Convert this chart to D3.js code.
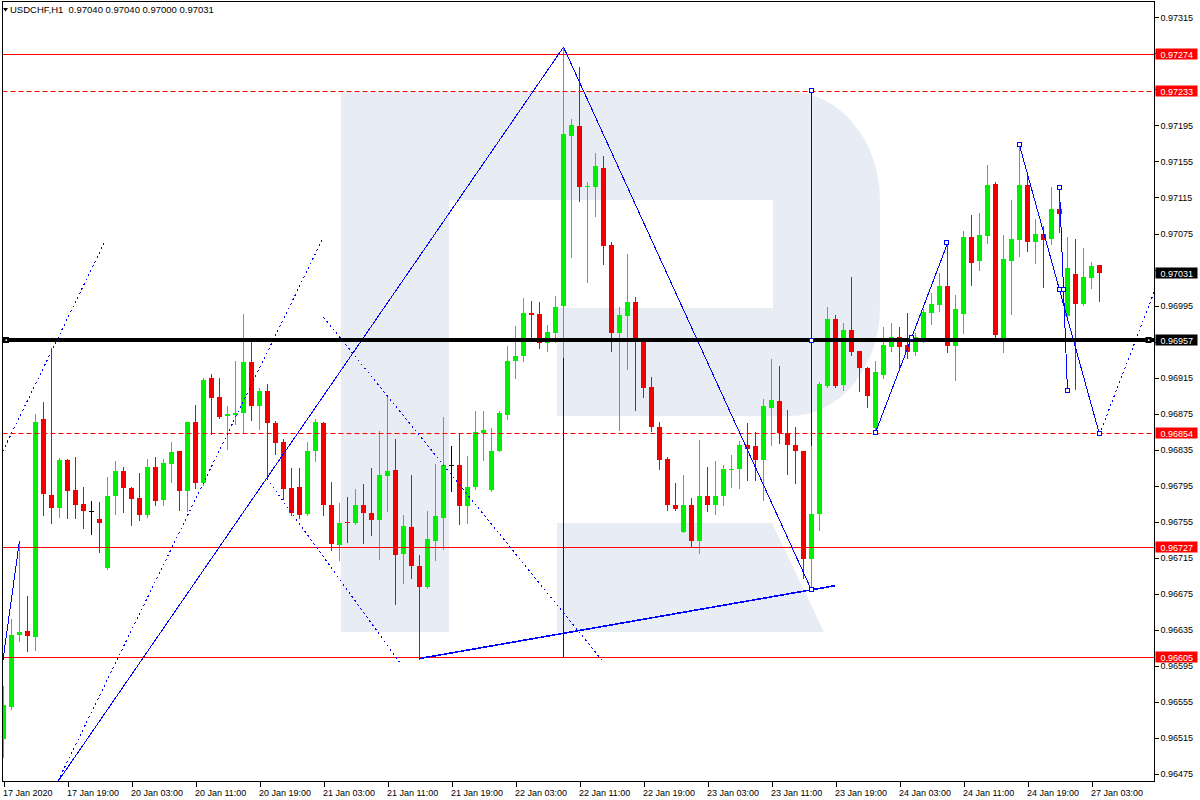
<!DOCTYPE html>
<html><head><meta charset="utf-8">
<script src="https://cdn.jsdelivr.net/npm/d3@7"></script>
<style>
html,body{margin:0;padding:0;background:#fff;}
svg{display:block;}
text{font-family:"Liberation Sans",Arial,sans-serif;}
</style>
</head><body>
<svg id="c" width="1200" height="800"></svg>
<script>
// ---------------- DATA ----------------
const chartTitle = "USDCHF,H1  0.97040 0.97040 0.97000 0.97031";
// one label every 8 hourly bars, starting at bar 0 (17 Jan 11:00)
const timeLabels = ["17 Jan 2020","17 Jan 19:00","20 Jan 03:00","20 Jan 11:00","20 Jan 19:00",
  "21 Jan 03:00","21 Jan 11:00","21 Jan 19:00","22 Jan 03:00","22 Jan 11:00","22 Jan 19:00",
  "23 Jan 03:00","23 Jan 11:00","23 Jan 19:00","24 Jan 03:00","24 Jan 11:00","24 Jan 19:00","27 Jan 03:00"];
const priceTicks = [0.96475,0.96515,0.96555,0.96595,0.96635,0.96675,0.96715,0.96755,0.96795,0.96835,
  0.96875,0.96915,0.96955,0.96995,0.97035,0.97075,0.97115,0.97155,0.97195,0.97235,0.97275,0.97315];

const open = [0.96514,0.96549,0.96629,0.96634,0.96627,0.96869,0.96785,0.96770,0.96823,0.96790,
 0.96775,0.96767,0.96758,0.96703,0.96783,0.96811,0.96792,0.96781,0.96762,0.96816,
 0.96779,0.96819,0.96834,0.96789,0.96866,0.96798,0.96914,0.96893,0.96872,0.96874,
 0.96876,0.96932,0.96883,0.96900,0.96865,0.96844,0.96792,0.96794,0.96763,0.96834,
 0.96865,0.96774,0.96729,0.96755,0.96753,0.96774,0.96765,0.96757,0.96806,0.96812,
 0.96719,0.96749,0.96706,0.96682,0.96733,0.96759,0.96818,0.96818,0.96772,0.96793,
 0.96854,0.96790,0.96834,0.96874,0.96933,0.96939,0.96987,0.96986,0.96953,0.96965,
 0.96994,0.97183,0.97194,0.97127,0.97127,0.97148,0.97062,0.96965,0.96983,0.96999,
 0.96955,0.96905,0.96860,0.96825,0.96774,0.96743,0.96774,0.96733,0.96783,0.96773,
 0.96784,0.96812,0.96814,0.96840,0.96839,0.96823,0.96881,0.96889,0.96854,0.96840,
 0.96834,0.96713,0.96763,0.96906,0.96980,0.96907,0.96968,0.96945,0.96926,0.96859,
 0.96918,0.96949,0.96960,0.96951,0.96943,0.96956,0.96987,0.96996,0.97017,0.96950,
 0.96986,0.97071,0.97044,0.97072,0.97130,0.96959,0.97045,0.97068,0.97129,0.97066,
 0.97074,0.97069,0.97102,0.96983,0.97030,0.96997,0.97026,0.97040];
const high = [0.96573,0.96647,0.96734,0.96673,0.96875,0.96888,0.96948,0.96826,0.96825,0.96827,
 0.96793,0.96778,0.96777,0.96805,0.96822,0.96816,0.96794,0.96809,0.96825,0.96827,
 0.96825,0.96844,0.96834,0.96866,0.96885,0.96915,0.96919,0.96914,0.96883,0.96933,
 0.96986,0.96955,0.96903,0.96908,0.96867,0.96847,0.96815,0.96815,0.96844,0.96869,
 0.96866,0.96799,0.96776,0.96782,0.96791,0.96797,0.96815,0.96856,0.96895,0.96847,
 0.96762,0.96807,0.96718,0.96767,0.96819,0.96871,0.96839,0.96854,0.96828,0.96878,
 0.96878,0.96859,0.96878,0.96950,0.96972,0.97003,0.97000,0.96999,0.96973,0.97006,
 0.97282,0.97202,0.97260,0.97132,0.97164,0.97161,0.97066,0.96993,0.97052,0.97004,
 0.96958,0.96916,0.96866,0.96827,0.96798,0.96807,0.96781,0.96846,0.96816,0.96822,
 0.96818,0.96829,0.96845,0.96865,0.96855,0.96891,0.96936,0.96928,0.96879,0.96860,
 0.96834,0.96839,0.96910,0.96993,0.96984,0.96976,0.97027,0.96945,0.96927,0.96933,
 0.96971,0.96976,0.96971,0.96987,0.96965,0.96991,0.97009,0.97031,0.97065,0.97007,
 0.97078,0.97096,0.97098,0.97151,0.97132,0.97073,0.97112,0.97173,0.97142,0.97091,
 0.97083,0.97127,0.97123,0.97071,0.97069,0.97059,0.97043,0.97040];
const low = [0.96494,0.96547,0.96623,0.96611,0.96613,0.96762,0.96754,0.96760,0.96759,0.96759,
 0.96748,0.96741,0.96721,0.96702,0.96763,0.96766,0.96751,0.96757,0.96760,0.96774,
 0.96773,0.96799,0.96768,0.96767,0.96792,0.96796,0.96852,0.96870,0.96836,0.96864,
 0.96853,0.96868,0.96858,0.96803,0.96830,0.96780,0.96762,0.96759,0.96762,0.96822,
 0.96762,0.96723,0.96712,0.96732,0.96752,0.96731,0.96740,0.96714,0.96767,0.96664,
 0.96687,0.96692,0.96603,0.96681,0.96712,0.96725,0.96789,0.96752,0.96754,0.96791,
 0.96824,0.96789,0.96833,0.96869,0.96915,0.96933,0.96958,0.96948,0.96945,0.96955,
 0.96938,0.97049,0.97111,0.97021,0.97095,0.97041,0.96945,0.96857,0.96925,0.96879,
 0.96893,0.96856,0.96814,0.96768,0.96768,0.96743,0.96728,0.96720,0.96767,0.96763,
 0.96774,0.96793,0.96792,0.96801,0.96801,0.96779,0.96840,0.96842,0.96808,0.96798,
 0.96692,0.96679,0.96746,0.96904,0.96905,0.96901,0.96940,0.96900,0.96882,0.96855,
 0.96914,0.96945,0.96927,0.96937,0.96940,0.96955,0.96975,0.96989,0.96943,0.96912,
 0.96965,0.97018,0.97035,0.97065,0.96958,0.96943,0.96986,0.97050,0.97056,0.97042,
 0.97016,0.97063,0.97077,0.96979,0.96902,0.96996,0.97014,0.97000];
const close = [0.96551,0.96629,0.96633,0.96628,0.96866,0.96786,0.96770,0.96824,0.96789,0.96774,
 0.96767,0.96767,0.96753,0.96783,0.96811,0.96792,0.96780,0.96762,0.96816,0.96778,
 0.96820,0.96832,0.96789,0.96866,0.96798,0.96912,0.96892,0.96871,0.96875,0.96876,
 0.96932,0.96883,0.96900,0.96865,0.96842,0.96791,0.96765,0.96762,0.96833,0.96866,
 0.96773,0.96730,0.96754,0.96753,0.96773,0.96765,0.96757,0.96807,0.96811,0.96718,
 0.96750,0.96706,0.96682,0.96736,0.96761,0.96818,0.96818,0.96772,0.96794,0.96855,
 0.96857,0.96834,0.96876,0.96933,0.96939,0.96987,0.96985,0.96953,0.96966,0.96993,
 0.97186,0.97195,0.97127,0.97128,0.97150,0.97061,0.96965,0.96984,0.96999,0.96955,
 0.96903,0.96860,0.96823,0.96773,0.96769,0.96774,0.96733,0.96783,0.96774,0.96784,
 0.96814,0.96814,0.96840,0.96836,0.96823,0.96883,0.96890,0.96853,0.96840,0.96833,
 0.96714,0.96764,0.96908,0.96980,0.96906,0.96968,0.96943,0.96926,0.96895,0.96921,
 0.96951,0.96960,0.96949,0.96943,0.96960,0.96988,0.96997,0.97017,0.96950,0.96991,
 0.97071,0.97042,0.97073,0.97129,0.96962,0.97047,0.97069,0.97129,0.97066,0.97075,
 0.97068,0.97102,0.97097,0.97037,0.96997,0.97027,0.97039,0.97031];

// horizontal levels
const redSolidLevels = [0.97274, 0.96727, 0.96605];
const redDashedLevels = [0.97233, 0.96854];
const keyLevel = 0.96957;
const lastPrice = 0.97031;

// drawn objects: [barIndex, price] pairs
const waveLines = [
  [[-0.1, 0.96599], [2, 0.96734]],
  [[6, 0.96456], [70, 0.97282]],
  [[70, 0.97282], [101, 0.96679]],
  [[109, 0.96854], [118, 0.97064]],
  [[127, 0.97173], [137, 0.96852]],
  [[132, 0.97125], [133, 0.96900]]
];
const lowTrendLine = [[52, 0.96603], [104, 0.96684]];
const verticalLines = [[70, 0.97282, 0.96605], [101, 0.97233, 0.96679]];
const dottedLines = [
  [[-0.1, 0.96833], [12.78, 0.97068]],
  [[6.8, 0.96467], [40, 0.97071]],
  [[40, 0.96982], [75, 0.96599]],
  [[32.9, 0.96803], [49.5, 0.96599]],
  [[137, 0.96852], [144, 0.97014]]
];
const selectedWaves = [3, 4, 5];   // lines of waveLines showing anchor squares
const selectedVertical = [1];

// ---------------- CHART ----------------
const svg = d3.select("#c");
const L = 2.5, R = 1154.5, T = 1.5, B = 781.5;
const x = d3.scaleLinear().domain([0, 137]).range([3.5, 1099.5]);
const y = d3.scaleLinear().domain([0.96475, 0.97315]).range([773.8, 17.4]);
const BLUE = "#0000ff", RED = "#ff0000", GREEN = "#00ee00", CRED = "#f00000";

svg.append("rect").attr("width", 1200).attr("height", 800).attr("fill", "#fff");
svg.append("defs").append("clipPath").attr("id", "plot")
  .append("rect").attr("x", L).attr("y", T).attr("width", R - L).attr("height", B - T);
const g = svg.append("g").attr("clip-path", "url(#plot)");

// watermark
const wm = g.append("g").attr("fill", "#e8edf5");
wm.append("path").attr("d",
  "M341,92 H790 A90,108 0 0 1 880,200 V307 A90,109 0 0 1 790,416 H557 V308 H773 V200 H449 V632 H341 Z");
wm.append("path").attr("d", "M557,523 H772 L824,632 H557 Z");

// vertical lines (behind candles)
g.selectAll("line.vl").data(verticalLines).join("line").attr("class", "vl")
  .attr("x1", d => x(d[0])).attr("x2", d => x(d[0]))
  .attr("y1", d => y(d[1])).attr("y2", d => y(d[2]))
  .attr("stroke", BLUE).attr("stroke-width", 1).attr("shape-rendering", "crispEdges");

// candles
const bars = d3.range(open.length);
const colorOf = i => close[i] > open[i] ? GREEN : (close[i] < open[i] ? CRED : "#000");
g.selectAll("line.wick").data(bars).join("line").attr("class", "wick")
  .attr("x1", i => x(i)).attr("x2", i => x(i))
  .attr("y1", i => Math.round(y(high[i]))).attr("y2", i => Math.round(y(low[i])) + 1)
  .attr("stroke", colorOf).attr("stroke-width", 1).attr("shape-rendering", "crispEdges");
g.selectAll("rect.body").data(bars).join("rect").attr("class", "body")
  .attr("x", i => x(i) - 2.5).attr("width", 5)
  .attr("y", i => Math.round(y(Math.max(open[i], close[i]))))
  .attr("height", i => Math.max(1, Math.round(y(Math.min(open[i], close[i]))) - Math.round(y(Math.max(open[i], close[i])))))
  .attr("fill", colorOf).attr("shape-rendering", "crispEdges");

// red levels
g.selectAll("line.rs").data(redSolidLevels).join("line").attr("class", "rs")
  .attr("x1", L).attr("x2", R).attr("y1", d => Math.round(y(d)) + 0.5).attr("y2", d => Math.round(y(d)) + 0.5)
  .attr("stroke", RED).attr("stroke-width", 1.2);
g.selectAll("line.rd").data(redDashedLevels).join("line").attr("class", "rd")
  .attr("x1", L).attr("x2", R).attr("y1", d => Math.round(y(d)) + 0.5).attr("y2", d => Math.round(y(d)) + 0.5)
  .attr("stroke", RED).attr("stroke-width", 1.2).attr("stroke-dasharray", "5,3");

// blue lines
const seg = d => `M${x(d[0][0])},${y(d[0][1])}L${x(d[1][0])},${y(d[1][1])}`;
g.selectAll("path.wave").data(waveLines).join("path").attr("class", "wave").attr("d", seg)
  .attr("fill", "none").attr("stroke", BLUE).attr("stroke-width", 1).attr("shape-rendering", "crispEdges");
g.append("path").attr("d", seg(lowTrendLine)).attr("fill", "none").attr("stroke", BLUE)
  .attr("stroke-width", 1.6).attr("shape-rendering", "crispEdges");
g.selectAll("path.dot").data(dottedLines).join("path").attr("class", "dot").attr("d", seg)
  .attr("fill", "none").attr("stroke", BLUE).attr("stroke-width", 1).attr("stroke-dasharray", "2,3")
  .attr("shape-rendering", "crispEdges");

// key level (thick black)
const ky = Math.round(y(keyLevel));
g.append("line").attr("x1", L).attr("x2", R).attr("y1", ky).attr("y2", ky)
  .attr("stroke", "#000").attr("stroke-width", 4);
[L + 3.5, R - 6].forEach(px => {
  g.append("rect").attr("x", px - 3).attr("y", ky - 3).attr("width", 6).attr("height", 6).attr("fill", "#000");
  g.append("rect").attr("x", px - 0.5).attr("y", ky - 0.5).attr("width", 1.5).attr("height", 1.5).attr("fill", "#fff");
});

// anchor squares of selected objects
const anchors = [];
selectedWaves.forEach(k => {
  const [a, b] = waveLines[k];
  anchors.push(a, b, [(a[0] + b[0]) / 2, (a[1] + b[1]) / 2]);
});
selectedVertical.forEach(k => {
  const v = verticalLines[k];
  anchors.push([v[0], v[1]], [v[0], v[2]], [v[0], (v[1] + v[2]) / 2]);
});
g.selectAll("rect.anc").data(anchors).join("rect").attr("class", "anc")
  .attr("x", d => Math.round(x(d[0])) - 2.5).attr("y", d => Math.round(y(d[1])) - 2.5)
  .attr("width", 4).attr("height", 4).attr("fill", "#fff").attr("stroke", BLUE).attr("stroke-width", 1)
  .attr("shape-rendering", "crispEdges");

// frame
svg.append("path").attr("d", `M${L},${B}V${T}H${R}V${B}H${L}`)
  .attr("fill", "none").attr("stroke", "#000").attr("stroke-width", 1).attr("shape-rendering", "crispEdges");

// price axis
const tagPrices = redSolidLevels.concat(redDashedLevels, [keyLevel, lastPrice]);
const ya = svg.append("g").attr("transform", `translate(${R},0)`)
  .call(d3.axisRight(y).tickValues(priceTicks).tickSize(4).tickPadding(2).tickFormat(d3.format(".5f")));
ya.select(".domain").remove();
ya.selectAll("text").attr("font-size", 9).attr("font-family", "Liberation Sans, Arial, sans-serif").attr("fill", "#000");
ya.selectAll("line").attr("stroke", "#000").attr("shape-rendering", "crispEdges");
// labels hidden under the level tags
ya.selectAll(".tick text").filter(d => tagPrices.some(p => Math.abs(y(p) - y(d)) < 7)).remove();

function priceTag(p, bg) {
  const py = Math.round(y(p));
  svg.append("rect").attr("x", R + 1).attr("y", py - 5.5).attr("width", 42).attr("height", 11).attr("fill", bg);
  svg.append("text").attr("x", R + 6).attr("y", py + 3.5).attr("font-size", 9).attr("fill", "#fff")
    .text(d3.format(".5f")(p));
}
redSolidLevels.concat(redDashedLevels).forEach(p => priceTag(p, RED));
priceTag(keyLevel, "#000");
priceTag(lastPrice, "#000");

// time axis
const xa = svg.append("g").attr("transform", `translate(0,${B})`)
  .call(d3.axisBottom(x).tickValues(d3.range(0, 137, 8)).tickSize(5).tickPadding(3)
    .tickFormat((d, k) => timeLabels[k]));
xa.select(".domain").remove();
xa.selectAll("line").attr("stroke", "#000").attr("shape-rendering", "crispEdges");
xa.selectAll("text").attr("font-size", 9).attr("font-family", "Liberation Sans, Arial, sans-serif")
  .attr("fill", "#000").attr("text-anchor", "start").attr("x", -1);

// title
svg.append("path").attr("d", "M3,8H8L5.5,11.5Z").attr("fill", "#000");
svg.append("text").attr("x", 10).attr("y", 12.5).attr("font-size", 9.5).attr("fill", "#000")
  .attr("xml:space", "preserve").style("white-space", "pre").text(chartTitle);
</script>
</body></html>
